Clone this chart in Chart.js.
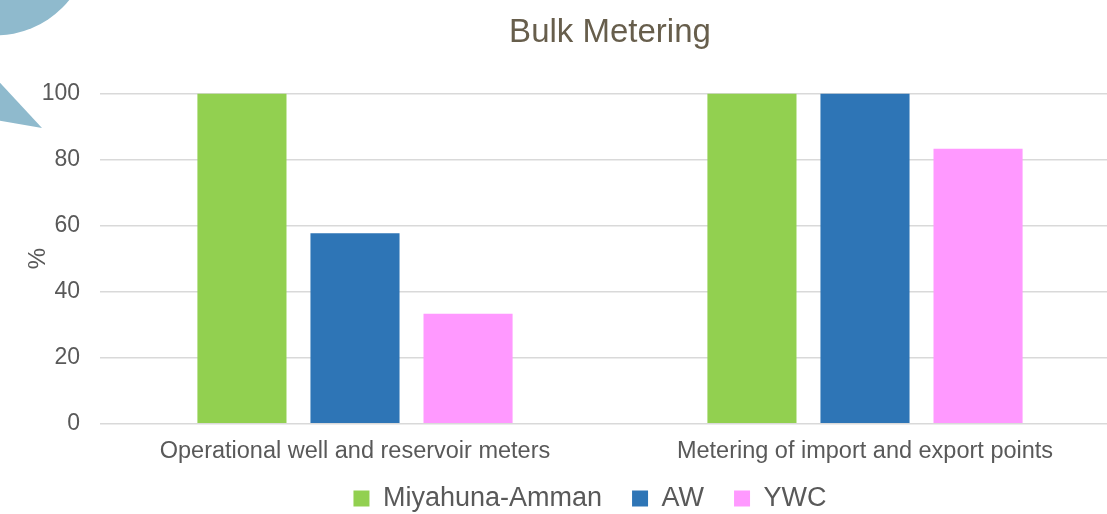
<!DOCTYPE html>
<html>
<head>
<meta charset="utf-8">
<script src="https://cdn.jsdelivr.net/npm/chart.js@4.4.1/dist/chart.umd.min.js"></script>
<style>
    html, body { margin: 0; padding: 0; background: #ffffff; overflow: hidden; }
    #wrap { position: relative; width: 1180px; height: 514px; }
</style>
</head>
<body>
<div id="wrap"><canvas id="bulk" width="1180" height="514"></canvas></div>
<script>
/*--------------------DATA--------------------*/
const categories = ['Operational well and reservoir meters', 'Metering of import and export points'];
const miyahunaValues = [100, 100];
const awValues = [57.7, 100];
const ywcValues = [33.3, 83.3];
const yTicks = [0, 20, 40, 60, 80, 100];

/*--------------------DECORATION--------------------*/
// slide background shapes in the top left corner
const slideShapes = {
    id: 'slideShapes',
    beforeDraw(chart) {
        const ctx = chart.ctx;
        ctx.save();
        ctx.fillStyle = '#8fbacd';
        ctx.beginPath();
        ctx.arc(-5, -60, 95.5, 0, Math.PI * 2);
        ctx.fill();
        ctx.beginPath();
        ctx.moveTo(-10, 72);
        ctx.lineTo(42, 128);
        ctx.lineTo(-10, 119);
        ctx.closePath();
        ctx.fill();
        ctx.restore();
    }
};

// legend sits right of the canvas centre and closer to the axis labels in the original
const legendShift = {
    id: 'legendShift',
    afterLayout(chart) {
        let legend = chart.legend;
        legend.left += 30;
        legend.right += 30;
        legend.top -= 25;
        legend.bottom -= 25;
    }
};

/*--------------------CHART--------------------*/
let textColor = '#595959';
let bulkCanvas = document.getElementById('bulk');
let bulkChart = new Chart(bulkCanvas, {
    type: 'bar',
    data: {
        labels: categories,
        datasets: [
            { label: 'Miyahuna-Amman', data: miyahunaValues, backgroundColor: '#92d050' },
            { label: 'AW', data: awValues, backgroundColor: '#2e75b6' },
            { label: 'YWC', data: ywcValues, backgroundColor: '#ff99ff' }
        ]
    },
    options: {
        responsive: false,
        animation: false,
        layout: { padding: { left: 0, right: 60, top: 0, bottom: -33 } },
        datasets: { bar: { categoryPercentage: 0.665, barPercentage: 0.788 } },
        scales: {
            x: {
                grid: { display: false, drawTicks: false },
                border: { display: false },
                ticks: { color: textColor, font: { family: 'Liberation Sans', size: 23.5 }, padding: 14, maxRotation: 0 }
            },
            y: {
                min: 0,
                max: 100,
                afterBuildTicks: (axis) => { axis.ticks = yTicks.map((v) => ({ value: v })); },
                afterFit: (axis) => { axis.width = 100; },
                grid: { color: '#d9d9d9', lineWidth: 1.5, drawTicks: false },
                border: { display: false },
                ticks: { color: textColor, font: { family: 'Liberation Sans', size: 23 }, padding: 20 },
                title: { display: true, text: '%', color: textColor, font: { family: 'Liberation Sans', size: 24 }, padding: { top: 24, bottom: 0 } }
            }
        },
        plugins: {
            title: {
                display: true,
                text: 'Bulk Metering',
                fullSize: false,
                color: '#675e4c',
                font: { family: 'Liberation Sans', size: 33, weight: 'normal' },
                padding: { top: 13, bottom: 41 }
            },
            legend: {
                position: 'bottom',
                labels: {
                    color: textColor,
                    font: { family: 'Liberation Sans', size: 27 },
                    boxWidth: 16,
                    boxHeight: 16,
                    padding: 30
                }
            },
            tooltip: { enabled: false }
        }
    },
    plugins: [slideShapes, legendShift]
});
</script>
</body>
</html>
